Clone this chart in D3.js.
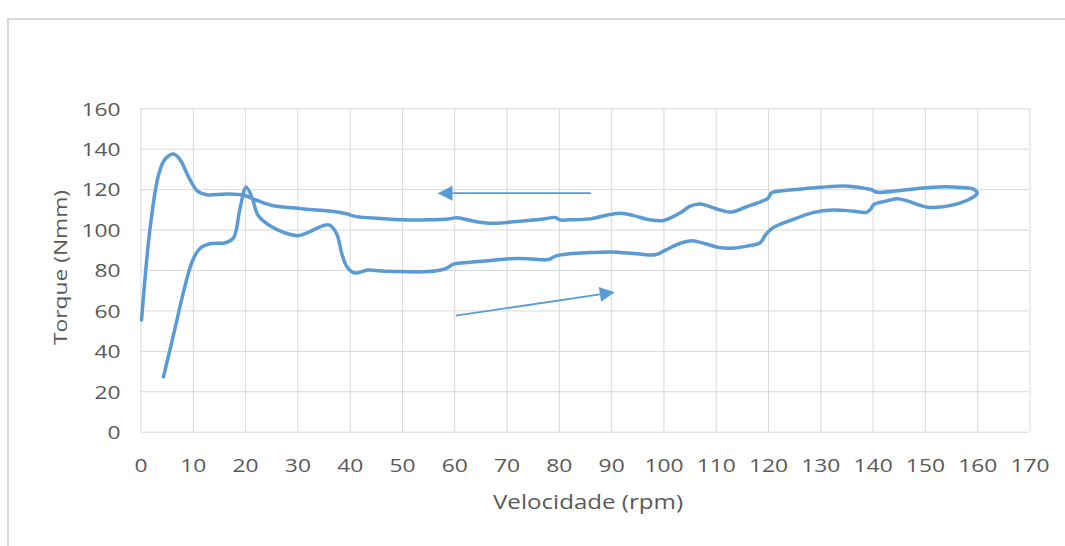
<!DOCTYPE html>
<html>
<head>
<meta charset="utf-8">
<script src="https://cdn.jsdelivr.net/npm/d3@7"></script>
<style>
  html, body { margin: 0; padding: 0; background: #ffffff; }
  svg { display: block; }
  text { font-family: "Open Sans", "Noto Sans", sans-serif; fill: #595959; }
</style>
</head>
<body>
<svg id="chart" width="1065" height="546"></svg>
<script>
// ---- data ----
const xTicks = [0,10,20,30,40,50,60,70,80,90,100,110,120,130,140,150,160,170];
const yTicks = [0,20,40,60,80,100,120,140,160];
const xTitle = "Velocidade (rpm)";
const yTitle = "Torque (Nmm)";

// one continuous series: acceleration branch (lower) then deceleration branch (upper)
const speed = [
  4.4, 6.5, 8.5, 10, 11.5, 13.3, 16.3, 17.8, 19, 20.2, 21.3, 22.5, 25, 27.5, 30, 32, 34, 36,
  37.5, 38.5, 39.5, 41, 43.5, 46, 50, 55, 58.2, 60, 63, 66, 70, 74, 78, 79.5, 82, 86, 90, 95,
  98.4, 100.5, 103, 105.4, 108, 110.5, 113, 116, 118.5, 119.5, 121, 124.2, 128.6, 132.5, 136,
  138.8, 139.6, 140.3, 142.5, 144.6, 146.5, 148.5, 150.6, 153.5, 156, 158.5, 160,
  159.3, 157, 154, 150.3, 146, 141.4, 140.6, 139.8, 137, 134.4, 130, 126, 121.6, 120.6, 120,
  118, 115.9, 113, 110.2, 107, 105, 103.5, 100, 97.4, 94.5, 92.3, 89.8, 86, 82, 80.2, 79.3,
  77, 71.9, 67.5, 64.3, 60.5, 59.2, 55, 50.2, 45.8, 41.3, 39.4, 36.9, 33, 30.2, 25.4, 22.2,
  19.7, 16.5, 12.7, 10.9, 9.2, 7.6, 6.3, 4.6, 3.4, 1.8, 0.2
];
const torque = [
  27.2, 50, 72, 85, 91, 93, 93.5, 96, 110, 121, 116, 107, 101.5, 98.5, 97, 98.5, 101, 102.3,
  98, 88, 81.5, 78.5, 80, 79.5, 79.2, 79.2, 80.5, 83, 83.8, 84.5, 85.5, 85.6, 85.2, 87, 88, 88.6, 88.9, 88,
  87.5, 90, 93, 94.5, 93, 91.2, 90.8, 91.8, 93.5, 97.3, 101, 104.4, 108.4, 109.7, 109.2,
  108.5, 110, 112.5, 114, 115.2, 114.3, 112.5, 111, 111.3, 112.6, 115, 117.8,
  120, 120.8, 121.2, 120.7, 119.6, 118.4, 118.6, 119.7, 121, 121.6, 120.9, 120, 118.8, 118, 115.5,
  113.2, 111.3, 108.7, 110.2, 112.7, 111.5, 108.7, 104.5, 104.8, 106.8, 108, 107.5, 105.3, 104.8, 104.8, 106,
  105.2, 104, 103.1, 103.9, 105.9, 105.4, 104.8, 104.8, 105.5, 106.4, 107.8, 108.9, 109.8, 110.5, 111.8, 114.5,
  117, 117.6, 117.2, 119, 126, 134.5, 137.4, 134.5, 126.5, 100, 55.3
];

// annotation arrows (data coordinates): [fromSpeed, fromTorque, toSpeed, toTorque]
const arrowDecel = [86.1, 118, 56.8, 118];
const arrowAccel = [60.3, 57.4, 90.7, 69.0];

// ---- layout ----
const svg = d3.select("#chart");
const W = 1065, H = 546;
const pL = 140.5, pR = 1029.5, pT = 108.3, pB = 431.7;
const blue = "#5b9bd5";
const gridColor = "#d9d9d9";

// outer chart border
svg.append("rect").attr("x", 8).attr("y", 19).attr("width", W + 10).attr("height", H + 10)
  .attr("fill", "#ffffff").attr("stroke", "#d9d9d9").attr("stroke-width", 2);

const x = d3.scaleLinear().domain([0, 170]).range([pL, pR]);
const y = d3.scaleLinear().domain([0, 160]).range([pB, pT]);

// gridlines
svg.append("g").attr("transform", `translate(0,${pB})`)
  .call(d3.axisBottom(x).tickValues(xTicks).tickSize(-(pB - pT)).tickFormat(""))
  .call(g => g.select(".domain").remove())
  .call(g => g.selectAll("line").attr("stroke", gridColor).attr("stroke-width", 1));
svg.append("g").attr("transform", `translate(${pL},0)`)
  .call(d3.axisLeft(y).tickValues(yTicks).tickSize(-(pR - pL)).tickFormat(""))
  .call(g => g.select(".domain").remove())
  .call(g => g.selectAll("line").attr("stroke", gridColor).attr("stroke-width", 1));

// tick labels via axes
const xAxis = svg.append("g").attr("transform", `translate(0,${pB})`)
  .call(d3.axisBottom(x).tickValues(xTicks).tickSize(0).tickPadding(0).tickFormat(d3.format("d")));
xAxis.select(".domain").remove();
xAxis.selectAll("text").attr("y", 40).attr("dy", null)
  .attr("font-size", 19).attr("fill", "#595959").attr("font-family", "Open Sans").classed("stretch", true);

const yAxis = svg.append("g").attr("transform", `translate(${pL},0)`)
  .call(d3.axisLeft(y).tickValues(yTicks).tickSize(0).tickPadding(20).tickFormat(d3.format("d")));
yAxis.select(".domain").remove();
yAxis.selectAll("text").attr("dy", "0.36em")
  .attr("font-size", 19).attr("fill", "#595959").attr("font-family", "Open Sans").classed("stretch", true);

// axis titles
svg.append("text").attr("x", (pL + pR) / 2 + 3).attr("y", 509)
  .attr("text-anchor", "middle").attr("font-size", 20)
  .attr("textLength", 190).attr("lengthAdjust", "spacingAndGlyphs")
  .text(xTitle);
svg.append("text").attr("transform", `translate(67,${267.5}) rotate(-90)`)
  .attr("text-anchor", "middle").attr("font-size", 19)
  .attr("textLength", 155).attr("lengthAdjust", "spacingAndGlyphs")
  .text(yTitle);

// stretch tick labels horizontally (reference font is wider)
svg.selectAll("text.stretch").each(function () {
  const len = this.getComputedTextLength();
  d3.select(this).attr("textLength", len * 1.2).attr("lengthAdjust", "spacingAndGlyphs");
});

// series
const pts = speed.map((s, i) => [s, torque[i]]);
const line = d3.line().x(d => x(d[0])).y(d => y(d[1])).curve(d3.curveCatmullRom.alpha(0.5));
svg.append("path").datum(pts).attr("d", line)
  .attr("fill", "none").attr("stroke", blue).attr("stroke-width", 3.5)
  .attr("stroke-linejoin", "round").attr("stroke-linecap", "round");

// arrows
function arrow(a) {
  const x1 = x(a[0]), y1 = y(a[1]), x2 = x(a[2]), y2 = y(a[3]);
  const ang = Math.atan2(y2 - y1, x2 - x1);
  const hl = 15, hw = 7.5;
  const bx = x2 - hl * Math.cos(ang), by = y2 - hl * Math.sin(ang);
  svg.append("line").attr("x1", x1).attr("y1", y1).attr("x2", bx).attr("y2", by)
    .attr("stroke", blue).attr("stroke-width", 1.8);
  const p = [
    [x2, y2],
    [bx + hw * Math.sin(ang), by - hw * Math.cos(ang)],
    [bx - hw * Math.sin(ang), by + hw * Math.cos(ang)]
  ];
  svg.append("path").attr("d", "M" + p.map(q => q.join(",")).join("L") + "Z").attr("fill", blue);
}
arrow(arrowDecel);
arrow(arrowAccel);
</script>
</body>
</html>
